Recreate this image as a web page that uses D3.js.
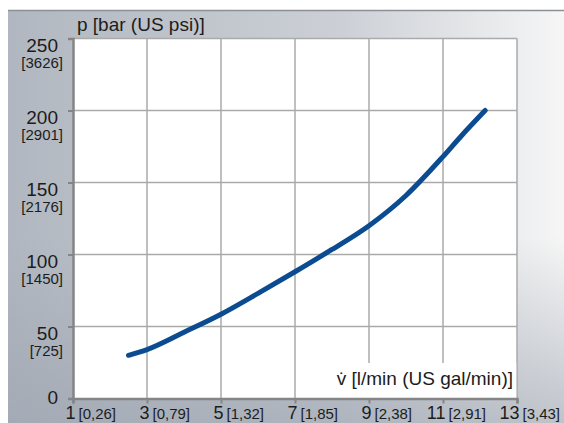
<!DOCTYPE html>
<html>
<head>
<meta charset="utf-8">
<script src="https://cdn.jsdelivr.net/npm/d3@7"></script>
<style>
  body { margin: 0; background: #fff; }
  svg { display: block; font-family: "Liberation Sans", Arial, sans-serif; }
</style>
</head>
<body>
<svg width="564" height="423"></svg>
<script>
// flow [l/min] and pressure [bar]
var flow = [2.5, 3, 4, 5, 6, 7, 8, 9, 10, 11, 11.5, 12.14];
var pressure = [30, 34, 46, 58.5, 73, 88, 103.5, 120, 141, 168, 182.5, 200];

var xTicks = [1, 3, 5, 7, 9, 11, 13];
var xSub = ["[0,26]", "[0,79]", "[1,32]", "[1,85]", "[2,38]", "[2,91]", "[3,43]"];
var yTicks = [0, 50, 100, 150, 200, 250];
var ySub = ["", "[725]", "[1450]", "[2176]", "[2901]", "[3626]"];

var svg = d3.select("svg");
var defs = svg.append("defs");

var grad = defs.append("linearGradient").attr("id", "bg")
  .attr("x1", "0%").attr("x2", "100%").attr("y1", "0%").attr("y2", "0%");
grad.append("stop").attr("offset", "0%").attr("stop-color", "#b1b7c0");
grad.append("stop").attr("offset", "60%").attr("stop-color", "#ccd0d6");
grad.append("stop").attr("offset", "100%").attr("stop-color", "#f6f6f6");

var shade = defs.append("linearGradient").attr("id", "shade")
  .attr("x1", "0%").attr("x2", "0%").attr("y1", "0%").attr("y2", "100%");
shade.append("stop").attr("offset", "55%").attr("stop-color", "#9aa2ae").attr("stop-opacity", 0);
shade.append("stop").attr("offset", "100%").attr("stop-color", "#9aa2ae").attr("stop-opacity", 0.6);

// panel
svg.append("rect").attr("x", 8).attr("y", 10).attr("width", 556).attr("height", 413)
  .attr("fill", "url(#bg)");
svg.append("rect").attr("x", 8).attr("y", 10).attr("width", 556).attr("height", 413)
  .attr("fill", "url(#shade)");
svg.append("line").attr("x1", 8).attr("x2", 564).attr("y1", 10.5).attr("y2", 10.5)
  .attr("stroke", "#8c8f94").attr("stroke-width", 1.5);

var x = d3.scaleLinear().domain([1, 13]).range([73, 517]);
var y = d3.scaleLinear().domain([0, 250]).range([398.5, 38.5]);

// plot area
svg.append("rect")
  .attr("x", x(1)).attr("y", y(250))
  .attr("width", x(13) - x(1)).attr("height", y(0) - y(250))
  .attr("fill", "#fff");

// grid
svg.append("g").selectAll("line").data(xTicks.slice(1)).enter().append("line")
  .attr("x1", d => x(d)).attr("x2", d => x(d))
  .attr("y1", y(250)).attr("y2", y(0))
  .attr("stroke", "#aaaaaa").attr("stroke-width", 1.5);
svg.append("g").selectAll("line").data(yTicks.slice(1)).enter().append("line")
  .attr("x1", x(1)).attr("x2", x(13))
  .attr("y1", d => y(d)).attr("y2", d => y(d))
  .attr("stroke", "#aaaaaa").attr("stroke-width", 1.5);

// x axis title with white box
svg.append("rect").attr("x", 322).attr("y", 363)
  .attr("width", x(13) - 322 - 0.75).attr("height", y(0) - 363)
  .attr("fill", "#fff");
svg.append("text").attr("x", 513).attr("y", 385)
  .attr("text-anchor", "end").attr("font-size", 19).attr("fill", "#1c1c1c")
  .text("v\u0307 [l/min (US gal/min)]");

// y title
svg.append("text").attr("x", 77).attr("y", 31)
  .attr("font-size", 19).attr("fill", "#1c1c1c")
  .text("p [bar (US psi)]");

// curve
var pts = flow.map((f, i) => [f, pressure[i]]);
svg.append("path").datum(pts)
  .attr("fill", "none").attr("stroke", "#0b4c90").attr("stroke-width", 5)
  .attr("stroke-linecap", "round").attr("stroke-linejoin", "round")
  .attr("d", d3.line().x(d => x(d[0])).y(d => y(d[1])).curve(d3.curveMonotoneX));

// axes
var yAxis = svg.append("g").attr("transform", "translate(" + x(1) + ",0)")
  .call(d3.axisLeft(y).tickValues(yTicks).tickSize(5).tickPadding(10));
yAxis.select(".domain").attr("stroke", "#858585").attr("stroke-width", 2.5);
yAxis.selectAll(".tick line").attr("stroke", "#858585").attr("stroke-width", 2);
yAxis.selectAll(".tick text")
  .attr("font-size", 19).attr("fill", "#1c1c1c")
  .attr("dy", d => d === 0 ? 5 : 13);
yAxis.selectAll(".tick").append("text")
  .attr("x", -10).attr("dy", 29).attr("text-anchor", "end")
  .attr("font-size", 15).attr("fill", "#1c1c1c")
  .text((d, i) => ySub[i]);

var xAxis = svg.append("g").attr("transform", "translate(0," + y(0) + ")")
  .call(d3.axisBottom(x).tickValues(xTicks).tickSize(5).tickPadding(0));
xAxis.select(".domain").attr("stroke", "#858585").attr("stroke-width", 2.5);
xAxis.selectAll(".tick line").attr("stroke", "#858585").attr("stroke-width", 2);
xAxis.selectAll(".tick text")
  .attr("font-size", 18).attr("fill", "#1c1c1c")
  .attr("text-anchor", "end").attr("x", 2).attr("y", 20.5).attr("dy", null);
xAxis.selectAll(".tick").append("text")
  .attr("x", 5).attr("y", 20).attr("text-anchor", "start")
  .attr("font-size", 15).attr("fill", "#1c1c1c")
  .text((d, i) => xSub[i]);

svg.selectAll(".tick text").attr("font-family", "'Liberation Sans', Arial, sans-serif");
</script>
</body>
</html>
